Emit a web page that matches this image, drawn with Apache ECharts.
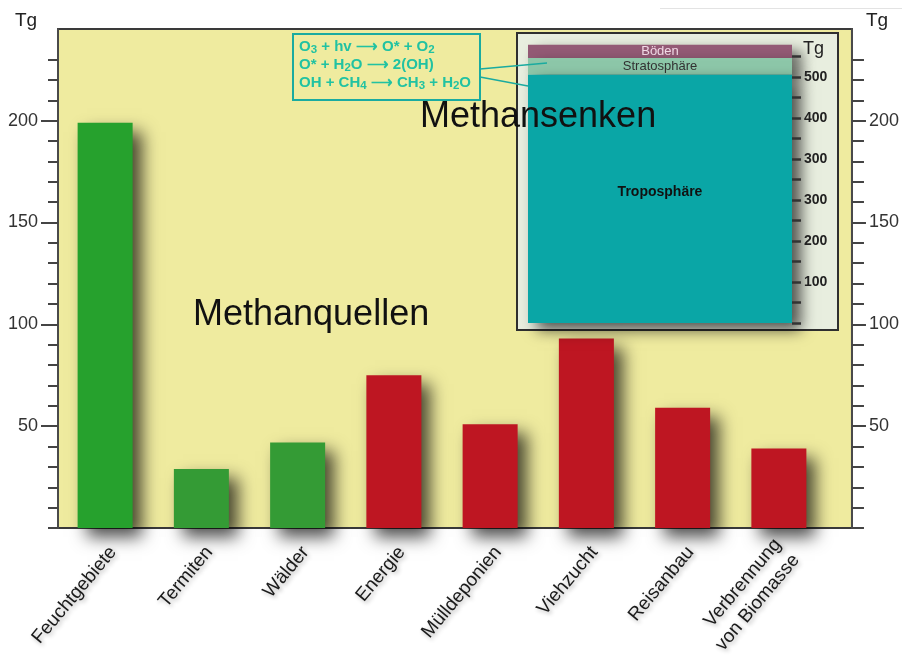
<!DOCTYPE html>
<html>
<head>
<meta charset="utf-8">
<script src="https://cdn.jsdelivr.net/npm/echarts@6/dist/echarts.min.js"></script>
<style>
  html, body { margin: 0; padding: 0; background: #ffffff; }
  #chart { width: 902px; height: 666px; }
</style>
</head>
<body>
<div id="chart"></div>
<script>
// Methane sources, Tg per year
const sourceCategories = ['Feuchtgebiete', 'Termiten', 'Wälder', 'Energie', 'Mülldeponien', 'Viehzucht', 'Reisanbau', 'Verbrennung\nvon Biomasse'];
const sourceValues = [199, 29, 42, 75, 51, 93, 59, 39];
const sourceTickLabels = [50, 100, 150, 200];

// Methane sinks, stacked from the bottom up
const sinkNames = ['Troposphäre', 'Stratosphäre', 'Böden'];
const sinkValues = [605, 41, 32];
const sinkTickValues = [100, 200, 300, 400, 500, 600];
const sinkTickLabels = ['100', '200', '300', '300', '400', '500'];

// OH chemistry in the troposphere; {s|..} marks a subscript
const reactions = [
  '{b|O}{s|3}{b| + hv ⟶ O* + O}{s|2}',
  '{b|O* + H}{s|2}{b|O ⟶ 2(OH)}',
  '{b|OH + CH}{s|4}{b| ⟶ CH}{s|3}{b| + H}{s|2}{b|O}'
];

// ---- styling ----
const FONT = '"Liberation Sans", Arial, sans-serif';
const sourceColors = ['#26a12d', '#349b35', '#349b35', '#be1622', '#be1622', '#be1622', '#be1622', '#be1622'];
const sinkColors = ['#0aa6a6', '#8dc7a9', '#935a75'];
const sinkLabelStyles = [
  { fontSize: 14, fontWeight: 'bold', color: '#111', offset: [0, -7] },
  { fontSize: 13, color: '#333', offset: [0, 0] },
  { fontSize: 13, color: '#f3dbe8', offset: [0, 0] }
];
const SOURCE_MAX = 245;
const SINK_MAX = 680;
const REACTION_COLOR = '#21c2a2';

const minorTicks = [];
for (let v = 0; v <= 230; v += 10) minorTicks.push(v);
const sinkTicks = [];
for (let v = 0; v <= 650; v += 50) sinkTicks.push(v);

const tickLine = { color: '#444', width: 2 };

function sourceAxis(position, tickLen, labelMargin, major) {
  return {
    gridIndex: 0, type: 'value', position: position, min: 0, max: SOURCE_MAX,
    axisLine: { show: !major, lineStyle: { color: '#4a4a4a', width: 2 } },
    axisTick: { show: true, customValues: major ? sourceTickLabels : minorTicks, length: tickLen, lineStyle: tickLine },
    axisLabel: major
      ? { show: true, customValues: sourceTickLabels, margin: labelMargin, fontSize: 18, color: '#333', fontFamily: FONT }
      : { show: false },
    splitLine: { show: false }
  };
}

const chart = echarts.init(document.getElementById('chart'), null, { renderer: 'canvas' });

const sinkSeries = sinkNames.map((name, i) => ({
  type: 'bar',
  name: name,
  stack: 'sinks',
  xAxisIndex: 2,
  yAxisIndex: 5,
  barWidth: '100%',
  z: 2 + (sinkNames.length - i),
  data: [sinkValues[i]],
  itemStyle: {
    color: sinkColors[i],
    shadowColor: 'rgba(0,0,0,0.65)',
    shadowBlur: 14,
    shadowOffsetX: 9,
    shadowOffsetY: 7
  },
  label: {
    show: true,
    position: 'inside',
    formatter: name,
    fontFamily: FONT,
    fontSize: sinkLabelStyles[i].fontSize,
    fontWeight: sinkLabelStyles[i].fontWeight || 'normal',
    color: sinkLabelStyles[i].color,
    offset: sinkLabelStyles[i].offset
  }
}));

const graphics = [
  // faint rule at the top of the page
  { type: 'line', z: 1, shape: { x1: 660, y1: 8.5, x2: 902, y2: 8.5 }, style: { stroke: '#e3e3e3', lineWidth: 1 } },
  // axis units
  { type: 'text', z: 5, style: { x: 15, y: 21, text: 'Tg', font: '19px ' + FONT, fill: '#222', verticalAlign: 'middle' } },
  { type: 'text', z: 5, style: { x: 866, y: 21, text: 'Tg', font: '19px ' + FONT, fill: '#222', verticalAlign: 'middle' } },
  // panel holding the sink column
  { type: 'rect', z: 1, shape: { x: 517, y: 33, width: 321, height: 297 }, style: { fill: '#e8eedf', stroke: '#2f2f2f', lineWidth: 2 } },
  { type: 'text', z: 5, style: { x: 803, y: 49, text: 'Tg', font: '18px ' + FONT, fill: '#222', verticalAlign: 'middle' } },
  // reaction box and its pointers
  { type: 'rect', z: 6, shape: { x: 293, y: 34, width: 187, height: 66 }, style: { fill: 'rgba(0,0,0,0)', stroke: '#1aaba0', lineWidth: 2 } },
  { type: 'line', z: 6, shape: { x1: 480, y1: 69, x2: 547, y2: 63 }, style: { stroke: '#1aaba0', lineWidth: 1.5 } },
  { type: 'line', z: 6, shape: { x1: 480, y1: 77, x2: 528, y2: 86 }, style: { stroke: '#1aaba0', lineWidth: 1.5 } },
  // headings
  { type: 'text', z: 10, style: { x: 420, y: 117, text: 'Methansenken', font: '36px ' + FONT, fill: '#111', verticalAlign: 'middle' } },
  { type: 'text', z: 10, style: { x: 193, y: 315, text: 'Methanquellen', font: '36px ' + FONT, fill: '#111', verticalAlign: 'middle' } }
];
reactions.forEach((r, i) => {
  graphics.push({
    type: 'text', z: 7,
    style: {
      x: 299, y: 47 + i * 18, text: r, verticalAlign: 'middle',
      rich: {
        b: { fontFamily: FONT, fontSize: 15, fontWeight: 'bold', fill: REACTION_COLOR, color: REACTION_COLOR, lineHeight: 18 },
        s: { fontFamily: FONT, fontSize: 11.5, fontWeight: 'bold', fill: REACTION_COLOR, color: REACTION_COLOR, lineHeight: 12, verticalAlign: 'bottom' }
      }
    }
  });
});

chart.setOption({
  animation: false,
  backgroundColor: '#ffffff',
  grid: [
    { left: 58, top: 29, width: 795, height: 499, show: true, backgroundColor: '#efeb9f', borderColor: '#3a3a3a', borderWidth: 2 },
    { left: 57, top: 29, width: 770, height: 499 },
    { left: 528, top: 44, width: 264, height: 279 },
    // category labels sit a little right of the bar centres
    { left: 65, top: 29, width: 770, height: 499 }
  ],
  xAxis: [
    { gridIndex: 0, type: 'value', min: 0, max: 1, show: false },
    { gridIndex: 1, type: 'category', data: sourceCategories, show: false },
    { gridIndex: 2, type: 'category', data: [''], show: false },
    {
      gridIndex: 3, type: 'category', data: sourceCategories,
      axisLine: { show: false }, axisTick: { show: false },
      axisLabel: {
        rotate: 50, margin: 21, interval: 0, fontSize: 19, color: '#1a1a1a', fontFamily: FONT,
        lineHeight: 24,
        textShadowColor: 'rgba(0,0,0,0.3)', textShadowBlur: 4, textShadowOffsetX: 2, textShadowOffsetY: 2
      }
    }
  ],
  yAxis: [
    sourceAxis('left', 10, 20, false),
    sourceAxis('left', 17, 20, true),
    sourceAxis('right', 12, 17, false),
    sourceAxis('right', 14, 17, true),
    { gridIndex: 1, type: 'value', min: 0, max: SOURCE_MAX, show: false },
    {
      gridIndex: 2, type: 'value', position: 'right', min: 0, max: SINK_MAX, z: 5,
      axisLine: { show: false },
      axisTick: { show: true, customValues: sinkTicks, length: 9, lineStyle: { color: '#333', width: 2.5 } },
      axisLabel: {
        show: true, customValues: sinkTickValues, margin: 12,
        formatter: v => sinkTickLabels[sinkTickValues.indexOf(v)],
        fontSize: 14, fontWeight: 'bold', color: '#222', fontFamily: FONT
      },
      splitLine: { show: false }
    },
    { gridIndex: 3, type: 'value', min: 0, max: SOURCE_MAX, show: false }
  ],
  series: [
    {
      type: 'bar',
      xAxisIndex: 1,
      yAxisIndex: 4,
      barWidth: 55,
      clip: false,
      z: 3,
      data: sourceValues.map((v, i) => ({ value: v, itemStyle: { color: sourceColors[i] } })),
      itemStyle: {
        shadowColor: 'rgba(0,0,0,0.7)',
        shadowBlur: 16,
        shadowOffsetX: 9,
        shadowOffsetY: 9
      }
    }
  ].concat(sinkSeries),
  graphic: graphics
});
</script>
</body>
</html>
